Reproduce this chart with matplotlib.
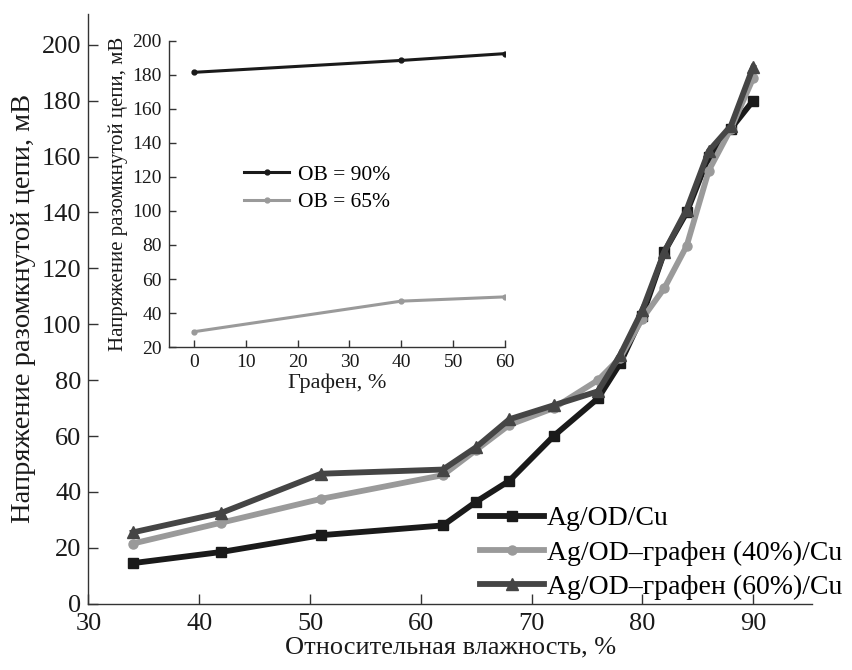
#!/usr/bin/env python3
"""Open-circuit voltage vs relative humidity, with graphene-content inset."""

import matplotlib.pyplot as plt

# main plot: relative humidity, %
rh = [34, 42, 51, 62, 65, 68, 72, 76, 78, 80, 82, 84, 86, 88, 90]
v_ag_od_cu = [14.5, 18.5, 24.5, 28, 36.5, 44, 60, 73.5, 86, 103, 126, 140, 160, 170, 180]
v_graphene40 = [21.5, 29, 37.5, 46, 55, 64, 70, 80, 88, 102, 113, 128, 155, 170, 188]
v_graphene60 = [25.5, 32.5, 46.5, 48, 56, 66, 71, 76, 89, 105, 126, 141, 162, 171, 192]
main_labels = ["Ag/OD/Cu", "Ag/OD\u2013графен (40%)/Cu", "Ag/OD\u2013графен (60%)/Cu"]

# inset: graphene content, %
graphene = [0, 40, 60]
v_rh90 = [181.5, 188.5, 192.5]
v_rh65 = [29, 47, 49.5]
inset_labels = ["ОВ = 90%", "ОВ = 65%"]

INK = "#1a1a1a"
LIGHT = "#9a9a9a"
DARK = "#454545"

plt.rcParams.update({
    "font.family": ["Liberation Serif", "DejaVu Serif"],
    "axes.linewidth": 1.0,
    "axes.edgecolor": "#333333",
})

fig = plt.figure(figsize=(8.53, 6.70), dpi=100)
ax = fig.add_axes([0.1037, 0.099, 0.848, 0.880])

ax.plot(rh, v_ag_od_cu, color=INK, lw=4.2, marker="s", ms=7.5, label=main_labels[0], zorder=3)
ax.plot(rh, v_graphene40, color=LIGHT, lw=4.2, marker="o", ms=6.5, label=main_labels[1], zorder=4)
ax.plot(rh, v_graphene60, color=DARK, lw=4.2, marker="^", ms=8.5, label=main_labels[2], zorder=5)

ax.set_xlim(30, 95.3)
ax.set_ylim(0, 211)
ax.set_xticks([30, 40, 50, 60, 70, 80, 90])
ax.set_yticks(range(0, 201, 20))
ax.tick_params(direction="in", length=7, width=1.0, labelsize=19, colors="#333333",
               labelcolor="#1a1a1a")
ax.tick_params(axis="x", pad=7)
ax.tick_params(axis="y", pad=5)
for side in ("top", "right"):
    ax.spines[side].set_visible(False)
ax.set_xlabel("Относительная влажность, %", fontsize=19, color=INK, labelpad=1)
ax.set_ylabel("Напряжение разомкнутой цепи, мВ", fontsize=20.5, color=INK, labelpad=4)

ax.legend(loc="upper left", bbox_to_anchor=(0.563, 0.245), bbox_transform=fig.transFigure,
          frameon=False, fontsize=20, handlelength=2.3, handletextpad=0.1,
          labelspacing=0.32, borderaxespad=0, borderpad=0)

# inset
ins = fig.add_axes([0.198, 0.482, 0.394, 0.457])
ins.set_facecolor("none")
ins.plot(graphene, v_rh90, color=INK, lw=2.2, marker="o", ms=3.5, label=inset_labels[0])
ins.plot(graphene, v_rh65, color=LIGHT, lw=2.2, marker="o", ms=3.5, label=inset_labels[1])
ins.set_xlim(-4.8, 60)
ins.set_ylim(20, 200)
ins.set_xticks(range(0, 61, 10))
ins.set_yticks(range(20, 201, 20))
ins.tick_params(direction="in", length=5, width=1.0, labelsize=14, pad=5, colors="#333333",
                labelcolor="#1a1a1a")
for side in ("top", "right"):
    ins.spines[side].set_visible(False)
ins.set_xlabel("Графен, %", fontsize=16, color=INK, labelpad=2)
ins.set_ylabel("Напряжение разомкнутой цепи, мВ", fontsize=15, color=INK, labelpad=3)
ins.legend(loc="upper left", bbox_to_anchor=(0.286, 0.754), bbox_transform=fig.transFigure,
           frameon=False, fontsize=15.5, handlelength=2.1, handletextpad=0.4,
           labelspacing=0.35, borderaxespad=0, borderpad=0)

fig.savefig("out.png", dpi=100)
